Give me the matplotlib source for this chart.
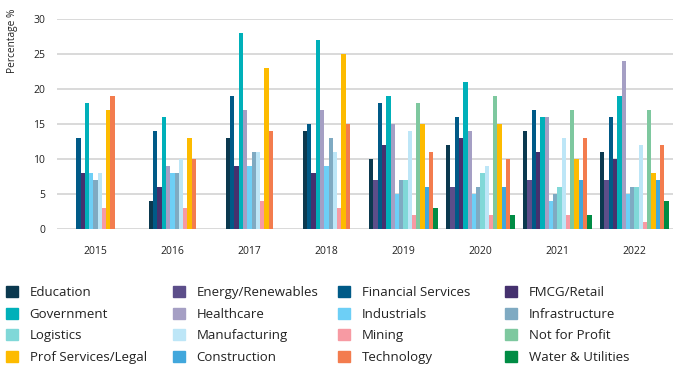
import numpy as np
import matplotlib.pyplot as plt
from matplotlib.patches import Patch

plt.rcParams['font.family'] = ['Open Sans', 'DejaVu Sans']

years = ['2015', '2016', '2017', '2018', '2019', '2020', '2021', '2022']

# 0 = sector not reported that year (no bar drawn)
education     = [0, 4, 13, 14, 10, 12, 14, 11]
energy        = [0, 0, 0, 0, 7, 6, 7, 7]
financial     = [13, 14, 19, 15, 18, 16, 17, 16]
fmcg          = [8, 6, 9, 8, 12, 13, 11, 10]
government    = [18, 16, 28, 27, 19, 21, 16, 19]
healthcare    = [0, 9, 17, 17, 15, 14, 16, 24]
industrials   = [8, 8, 9, 9, 5, 5, 4, 5]
infrastructure = [7, 8, 11, 13, 7, 6, 5, 6]
logistics     = [0, 0, 0, 0, 7, 8, 6, 6]
manufacturing = [8, 10, 11, 11, 14, 9, 13, 12]
mining        = [3, 3, 4, 3, 2, 2, 2, 1]
not_for_profit = [0, 0, 0, 0, 18, 19, 17, 17]
prof_services = [17, 13, 23, 25, 15, 15, 10, 8]
construction  = [0, 0, 0, 0, 6, 6, 7, 7]
technology    = [19, 10, 14, 15, 11, 10, 13, 12]
water         = [0, 0, 0, 0, 3, 2, 2, 4]

sectors = ['Education', 'Energy/Renewables', 'Financial Services', 'FMCG/Retail',
           'Government', 'Healthcare', 'Industrials', 'Infrastructure',
           'Logistics', 'Manufacturing', 'Mining', 'Not for Profit',
           'Prof Services/Legal', 'Construction', 'Technology', 'Water & Utilities']
values = [education, energy, financial, fmcg, government, healthcare, industrials,
          infrastructure, logistics, manufacturing, mining, not_for_profit,
          prof_services, construction, technology, water]
colors = ['#0b394f', '#5c4e8a', '#005a87', '#45316e', '#00b0b9', '#a59fc4',
          '#6dcff6', '#7faac2', '#80d8d8', '#bde6f7', '#f79aa3', '#7ec89f',
          '#fdbb00', '#41a7dc', '#f37c4e', '#008c44']

fig = plt.figure(figsize=(6.79, 3.70), dpi=100)
ax = fig.add_axes([0.0839, 0.382, 0.907, 0.5676])

w = 0.0555
for i in range(len(years)):
    present = [k for k in range(len(sectors)) if values[k][i] > 0]
    n = len(present)
    for j, k in enumerate(present):
        ax.bar(i + (j - (n - 1) / 2) * w, values[k][i], w, color=colors[k], zorder=3)

ax.set_xlim(-0.5, len(years) - 0.5)
ax.set_ylim(0, 30)
ax.set_yticks(range(0, 31, 5))
ax.set_xticks(range(len(years)))
ax.set_xticklabels(years)
ax.yaxis.grid(True, color='#d9d9d9', lw=1.4, zorder=0)
ax.set_axisbelow(True)
for s in ax.spines.values():
    s.set_visible(False)
ax.tick_params(axis='y', length=0, pad=8.5, labelsize=7.5, labelcolor='#222222')
ax.tick_params(axis='x', length=0, pad=12.5, labelsize=7.5, labelcolor='#222222')

fig.text(12 / 679, 1 - 41 / 370, 'Percentage %', rotation=90, ha='center', va='center',
         fontsize=7.3, color='#222222')

handles = [Patch(color=c, label=s) for c, s in zip(colors, sectors)]
col_x = [2, 169, 334, 501]
for c in range(4):
    hs = [handles[r * 4 + c] for r in range(4)]
    fig.legend(handles=hs, loc='upper left', bbox_to_anchor=(col_x[c] / 679, 1 - 282 / 370),
               frameon=False, fontsize=9.5, handlelength=0.9, handleheight=0.9,
               handletextpad=0.9, labelspacing=0.65, borderaxespad=0, borderpad=0.3,
               labelcolor='#222222')

fig.savefig('out.png', dpi=100)
